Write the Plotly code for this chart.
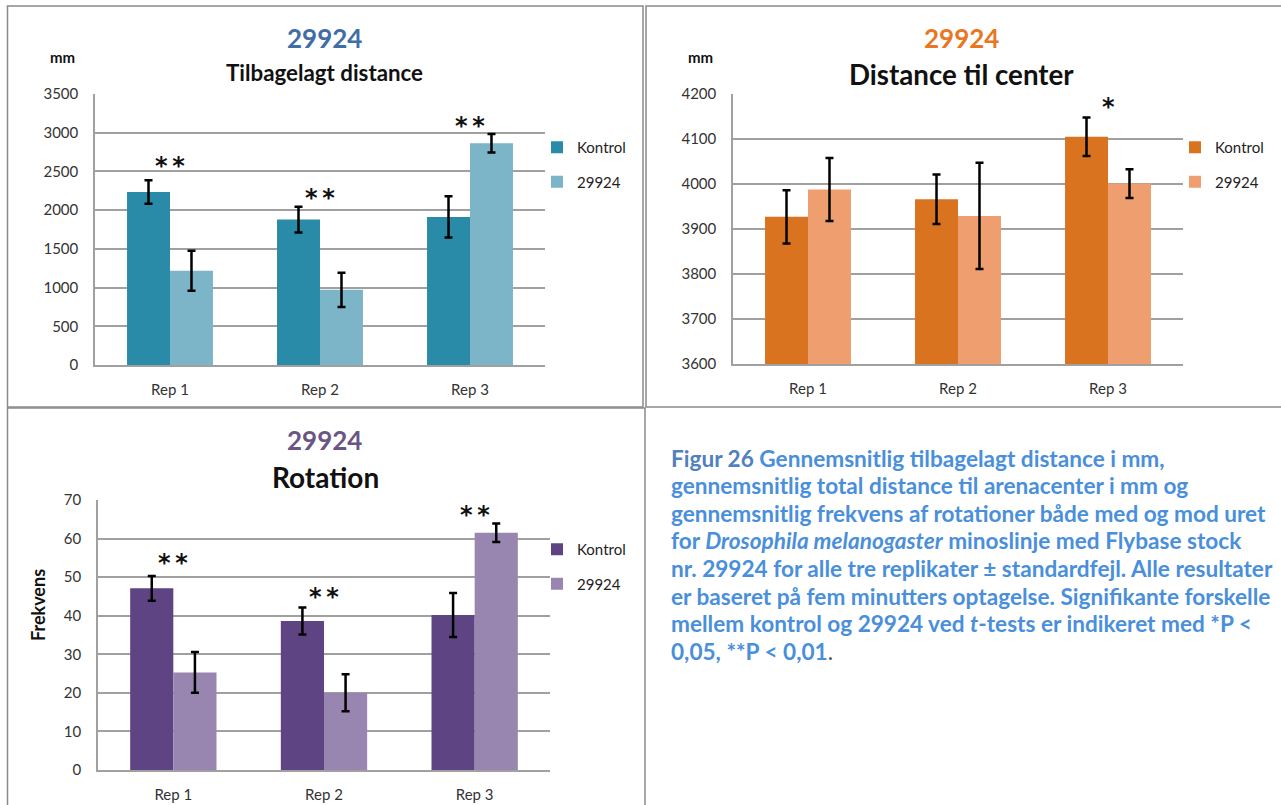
import plotly.graph_objects as go

reps = ["Rep 1", "Rep 2", "Rep 3"]

# Tilbagelagt distance (mm)
dist_kontrol = [2235, 1878, 1913]
dist_kontrol_se = [152, 166, 265]
dist_29924 = [1218, 971, 2863]
dist_29924_se = [259, 222, 120]
dist_stars = ["**", "**", "**"]
dist_star_y = [2633, 2224, 3152]

# Distance til center (mm)
center_kontrol = [3927, 3966, 4105]
center_kontrol_se = [59, 55, 43]
center_29924 = [3988, 3929, 4001]
center_29924_se = [70, 118, 32]
center_stars = ["", "", "*"]
center_star_y = [0, 0, 4182]

# Rotation (frekvens)
rot_kontrol = [47.1, 38.6, 40.2]
rot_kontrol_se = [3.2, 3.5, 5.7]
rot_29924 = [25.3, 20.0, 61.5]
rot_29924_se = [5.3, 4.8, 2.4]
rot_stars = ["**", "**", "**"]
rot_star_y = [54.9, 46.2, 67.4]

W, H = 1281, 805
FONT = "Lato"
GRID = "#a0a0a0"


def px_x(x):
    return x / W


def px_y(y):
    return 1 - y / H


panels = [
    dict(k=dist_kontrol, ke=dist_kontrol_se, t=dist_29924, te=dist_29924_se,
         stars=dist_stars, sy=dist_star_y,
         colors=("#2a8ba8", "#7db5c8"), rng=[0, 3500], dt=500,
         xd=[95, 545], yd=[94, 365], legend="legend", leg=(577, 131)),
    dict(k=center_kontrol, ke=center_kontrol_se, t=center_29924, te=center_29924_se,
         stars=center_stars, sy=center_star_y,
         colors=("#da7320", "#ee9e6f"), rng=[3600, 4200], dt=100,
         xd=[733, 1183], yd=[94, 364], legend="legend2", leg=(1215, 131)),
    dict(k=rot_kontrol, ke=rot_kontrol_se, t=rot_29924, te=rot_29924_se,
         stars=rot_stars, sy=rot_star_y,
         colors=("#5e4483", "#9886b0"), rng=[0, 70], dt=10,
         xd=[98, 550], yd=[500, 770], legend="legend3", leg=(577, 533)),
]

fig = go.Figure()
layout = {}
for i, p in enumerate(panels):
    n = "" if i == 0 else str(i + 1)
    xa, ya = "x" + n, "y" + n
    for name, vals, errs, col in [("Kontrol", p["k"], p["ke"], p["colors"][0]),
                                  ("29924", p["t"], p["te"], p["colors"][1])]:
        fig.add_trace(go.Bar(
            x=reps, y=vals, name=name, xaxis=xa, yaxis=ya,
            marker=dict(color=col, line=dict(width=0)),
            error_y=dict(type="data", array=errs, color="black", thickness=2.5, width=4),
            legend=p["legend"], legendgroup=name + n,
        ))
    layout["xaxis" + n] = dict(
        domain=[px_x(p["xd"][0]), px_x(p["xd"][1])], anchor=ya,
        showline=True, linecolor=GRID, linewidth=1.5, ticks="", ticklabelstandoff=10,
        tickfont=dict(family=FONT, size=15, color="#333"), automargin=False,
    )
    layout["yaxis" + n] = dict(
        domain=[px_y(p["yd"][1]), px_y(p["yd"][0])], anchor=xa,
        range=p["rng"], dtick=p["dt"], showline=True, linecolor=GRID, linewidth=1.5,
        showgrid=True, gridcolor=GRID, gridwidth=1.5, zeroline=False,
        tickfont=dict(family=FONT, size=15, color="#333"), ticks="", ticklabelstandoff=12,
        automargin=False,
    )
    lx, ly = p["leg"]
    layout[p["legend"]] = dict(
        x=px_x(lx - 40), y=px_y(ly), xanchor="left", yanchor="top",
        font=dict(family=FONT, size=15, color="#222"), tracegroupgap=12,
        bgcolor="rgba(0,0,0,0)",
    )
    for r, s, sy in zip(reps, p["stars"], p["sy"]):
        if s:
            fig.add_annotation(x=r, y=sy, xref=xa, yref=ya,
                               text="<b>" + "\u2009".join(s) + "</b>",
                               showarrow=False, yshift=-5, yanchor="middle",
                               font=dict(family="DejaVu Sans", size=24, color="#111"))

fig.update_layout(**layout)
fig.update_layout(
    width=W, height=H, margin=dict(l=0, r=0, t=0, b=0, pad=0, autoexpand=False),
    paper_bgcolor="white", plot_bgcolor="white",
    barmode="group", bargap=0.427, bargroupgap=0, showlegend=True,
)

# titles
titles = [
    (324, 38, "<b>29924</b>", 26, "#3f6da6"),
    (324, 72, "<b>Tilbagelagt distance</b>", 22.3, "#111"),
    (62, 57, "<b>mm</b>", 15, "#111"),
    (962, 38, "<b>29924</b>", 26, "#e8771f"),
    (962, 75, "<b>Distance til center</b>", 27.7, "#111"),
    (700, 57, "<b>mm</b>", 15, "#111"),
    (324, 440, "<b>29924</b>", 26, "#6a5586"),
    (325, 477, "<b>Rotation</b>", 28, "#111"),
]
for x, y, t, s, c in titles:
    fig.add_annotation(x=px_x(x), y=px_y(y), xref="paper", yref="paper", text=t,
                       showarrow=False, font=dict(family=FONT, size=s, color=c),
                       xanchor="center", yanchor="middle")
fig.add_annotation(x=px_x(38), y=px_y(605), xref="paper", yref="paper",
                   text="<b>Frekvens</b>", textangle=-90, showarrow=False,
                   xanchor="center", yanchor="middle",
                   font=dict(family=FONT, size=18, color="#111"))

caption_lines = [
    "<span style='color:#4f80c0'>Figur 26</span> Gennemsnitlig tilbagelagt distance i mm,",
    "gennemsnitlig total distance til arenacenter i mm og",
    "gennemsnitlig frekvens af rotationer både med og mod uret",
    "for <i>Drosophila melanogaster</i> minoslinje med Flybase stock",
    "nr. 29924 for alle tre replikater ± standardfejl. Alle resultater",
    "er baseret på fem minutters optagelse. Signifikante forskelle",
    "mellem kontrol og 29924 ved <i>t</i>-tests er indikeret med *P &lt;",
    "0,05, **P &lt; 0,01",
]
for i, line in enumerate(caption_lines):
    txt = "<b>" + line + "</b>"
    if i == len(caption_lines) - 1:
        txt += "<span style='color:#555'>.</span>"
    fig.add_annotation(x=px_x(669), y=px_y(458 + 27.6 * i), xref="paper", yref="paper",
                       text=txt, showarrow=False, align="left",
                       xanchor="left", yanchor="middle",
                       font=dict(family=FONT, size=22.6, color="#4a8fdb"))

# panel frames
frames = [(7.5, 6, 643, 407), (646, 6, 1290, 407), (7.5, 408, 645, 815)]
for x0, y0, x1, y1 in frames:
    fig.add_shape(type="rect", xref="paper", yref="paper",
                  x0=px_x(x0), x1=px_x(x1), y0=px_y(y1), y1=px_y(y0),
                  line=dict(color="#8a8a8a", width=1.5))

# drop the default body margin so the 1281x805 figure fills the window exactly
fig.write_html("out.html", config={"displayModeBar": False},
               post_script="document.body.style.margin='0';document.body.style.overflow='hidden';")
